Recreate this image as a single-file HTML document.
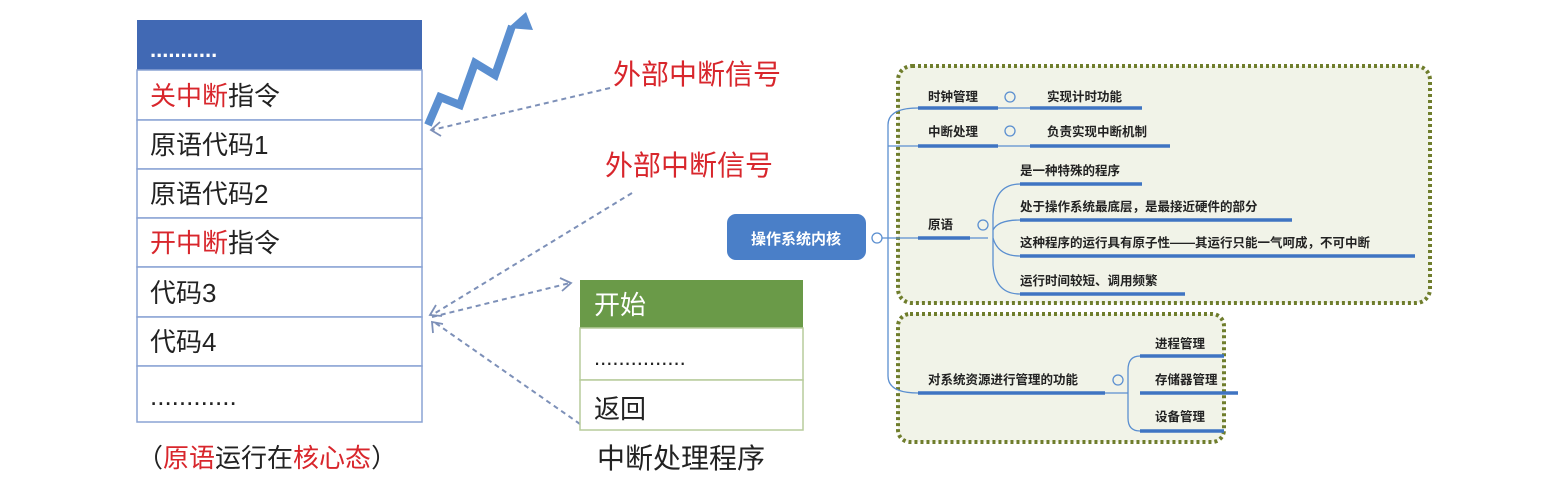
<!DOCTYPE html>
<html><head><meta charset="utf-8"><style>
html,body{margin:0;padding:0;background:#fff;}
body{width:1559px;height:487px;position:relative;overflow:hidden;font-family:"Liberation Sans","Noto Sans CJK SC",sans-serif;}
</style></head><body>
<svg width="1559" height="487" xmlns="http://www.w3.org/2000/svg" style="position:absolute;left:0;top:0" font-family="Liberation Sans, Noto Sans CJK SC, sans-serif">
<!-- left table -->
<rect x="137" y="20" width="285" height="50" fill="#4169b4"/>
<text x="150" y="57" font-size="22" fill="#fff" font-weight="bold">...........</text>
<g fill="#fff" stroke="#8aa3d4" stroke-width="1.5">
<rect x="137" y="70" width="285" height="50"/><rect x="137" y="120" width="285" height="49"/>
<rect x="137" y="169" width="285" height="49"/><rect x="137" y="218" width="285" height="49"/>
<rect x="137" y="267" width="285" height="50"/><rect x="137" y="317" width="285" height="49"/>
<rect x="137" y="366" width="285" height="56"/>
</g>
<g font-size="26" fill="#222">
<text x="150" y="105"><tspan fill="#d8262c">关中断</tspan>指令</text>
<text x="150" y="154">原语代码1</text>
<text x="150" y="203">原语代码2</text>
<text x="150" y="252"><tspan fill="#d8262c">开中断</tspan>指令</text>
<text x="150" y="302">代码3</text>
<text x="150" y="351">代码4</text>
<text x="150" y="405">............</text>
<text x="137" y="467">（<tspan fill="#d8262c">原语</tspan>运行在<tspan fill="#d8262c">核心态</tspan>）</text>
</g>
<!-- zigzag -->
<polyline points="428,125 440,97 460,105 475,63 495,75 512,26" fill="none" stroke="#5b8fd0" stroke-width="8" stroke-linejoin="miter"/>
<polygon points="526,12 508,28 533,30" fill="#5b8fd0"/>
<!-- red labels -->
<text x="613" y="84" font-size="28" fill="#d8262c">外部中断信号</text>
<text x="605" y="175" font-size="28" fill="#d8262c">外部中断信号</text>
<!-- dashed arrows -->
<g stroke="#7d90b8" stroke-width="2" stroke-dasharray="5,4" fill="none">
<line x1="610" y1="88" x2="432" y2="130"/>
<line x1="632" y1="193" x2="432" y2="315"/>
<line x1="432" y1="317" x2="570" y2="283"/>
<line x1="580" y1="424" x2="434" y2="322"/>
</g>
<g stroke="#7d90b8" stroke-width="1.8" fill="none">
<polyline points="440,122 431,130 441,136"/>
<polyline points="436,305 430,315 442,316"/>
<polyline points="560,278 571,283 562,291"/>
<polyline points="433,333 432,322 443,324"/>
</g>
<!-- green box -->
<rect x="580" y="280" width="223" height="48" fill="#6a9a48"/>
<text x="594" y="314" font-size="26" fill="#fff">开始</text>
<g fill="#fff" stroke="#b7cc9c" stroke-width="1.5">
<rect x="580" y="328" width="223" height="52"/><rect x="580" y="380" width="223" height="50"/>
</g>
<text x="594" y="365" font-size="22" fill="#222">...............</text>
<text x="594" y="418" font-size="26" fill="#222">返回</text>
<text x="597" y="468" font-size="28" fill="#222">中断处理程序</text>
<!-- mindmap boxes -->
<rect x="898" y="66" width="532" height="237" rx="14" fill="#f1f3e8" stroke="#6f7d2c" stroke-width="4" stroke-dasharray="3,3"/>
<rect x="898" y="314" width="326" height="128" rx="12" fill="#f1f3e8" stroke="#6f7d2c" stroke-width="4" stroke-dasharray="3,3"/>
<rect x="727" y="214" width="139" height="46" rx="9" fill="#4a7fc8"/>
<text x="796" y="244" font-size="15" font-weight="bold" fill="#fff" text-anchor="middle">操作系统内核</text>
<g fill="none" stroke="#5b8fd0" stroke-width="1.3">
<circle cx="877" cy="238" r="5"/><circle cx="1010" cy="97" r="5"/><circle cx="1010" cy="131" r="5"/>
<circle cx="983" cy="225" r="5"/><circle cx="1118" cy="380" r="5"/>
<path d="M882,238 L918,238"/>
<path d="M918,108 Q888,108 888,125 L888,376 Q888,393 918,393"/>
<path d="M888,146 L918,146"/>
<path d="M998,108 L1030,108 M998,146 L1030,146"/>
<path d="M970,238 L988,238"/>
<path d="M1020,184 Q995,184 993,215 L993,265 Q995,294 1020,294"/>
<path d="M993,238 Q998,256 1020,256 M993,230 Q998,220 1020,220"/>
<path d="M1105,393 L1128,393"/>
<path d="M1140,356 Q1128,356 1128,370 L1128,418 Q1128,431 1140,431"/>
</g>
<g stroke="#3f74c2" stroke-width="3.5">
<line x1="918" y1="108" x2="998" y2="108"/><line x1="1030" y1="108" x2="1142" y2="108"/>
<line x1="918" y1="146" x2="998" y2="146"/><line x1="1030" y1="146" x2="1170" y2="146"/>
<line x1="918" y1="238" x2="970" y2="238"/>
<line x1="1020" y1="184" x2="1142" y2="184"/><line x1="1020" y1="220" x2="1292" y2="220"/>
<line x1="1020" y1="256" x2="1415" y2="256"/><line x1="1020" y1="294" x2="1185" y2="294"/>
<line x1="918" y1="393" x2="1105" y2="393"/>
<line x1="1140" y1="356" x2="1224" y2="356"/><line x1="1140" y1="393" x2="1238" y2="393"/><line x1="1140" y1="431" x2="1224" y2="431"/>
</g>
<g font-size="12.5" font-weight="bold" fill="#222">
<text x="928" y="101">时钟管理</text><text x="1047" y="101">实现计时功能</text>
<text x="928" y="136">中断处理</text><text x="1047" y="136">负责实现中断机制</text>
<text x="928" y="229">原语</text>
<text x="1020" y="175">是一种特殊的程序</text>
<text x="1020" y="211">处于操作系统最底层，是最接近硬件的部分</text>
<text x="1020" y="247">这种程序的运行具有原子性——其运行只能一气呵成，不可中断</text>
<text x="1020" y="285">运行时间较短、调用频繁</text>
<text x="928" y="384">对系统资源进行管理的功能</text>
<text x="1155" y="348">进程管理</text><text x="1155" y="384">存储器管理</text><text x="1155" y="421">设备管理</text>
</g>
</svg>
</body></html>
